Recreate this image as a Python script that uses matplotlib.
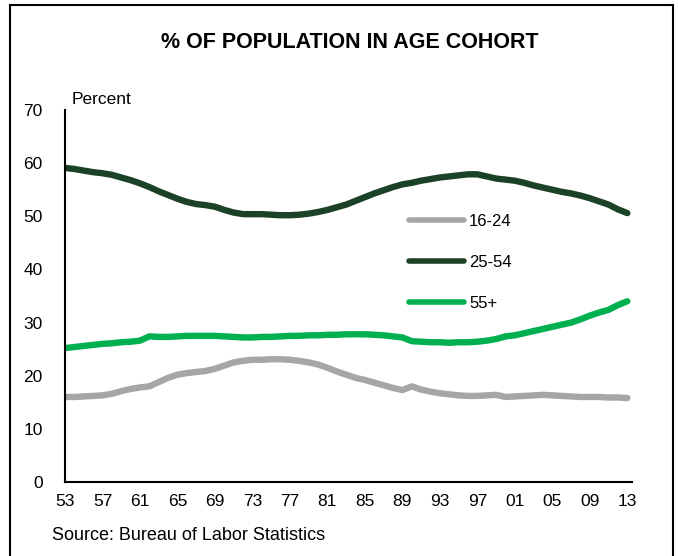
import matplotlib
matplotlib.use("Agg")
import matplotlib.pyplot as plt
from matplotlib.patches import Rectangle

plt.rcParams['font.family'] = ['Liberation Sans', 'DejaVu Sans']

years = list(range(1953, 2014))

age_16_24 = [16.0, 16.0, 16.1, 16.2, 16.3, 16.6, 17.1, 17.5, 17.8, 18.0,
             18.8, 19.6, 20.2, 20.5, 20.7, 20.9, 21.3, 21.9, 22.5, 22.8,
             23.0, 23.0, 23.1, 23.1, 23.0, 22.8, 22.5, 22.1, 21.5, 20.8,
             20.2, 19.6, 19.2, 18.7, 18.2, 17.7, 17.3, 18.0, 17.4, 17.0,
             16.7, 16.5, 16.3, 16.2, 16.2, 16.3, 16.4, 16.0, 16.1, 16.2,
             16.3, 16.4, 16.3, 16.2, 16.1, 16.0, 16.0, 16.0, 15.9, 15.9, 15.8]

age_25_54 = [59.1, 58.9, 58.6, 58.3, 58.1, 57.8, 57.3, 56.8, 56.2, 55.5,
             54.7, 54.0, 53.3, 52.7, 52.3, 52.1, 51.8, 51.2, 50.7, 50.4,
             50.4, 50.4, 50.3, 50.2, 50.2, 50.3, 50.5, 50.8, 51.2, 51.7,
             52.2, 52.9, 53.6, 54.3, 54.9, 55.5, 56.0, 56.3, 56.7, 57.0,
             57.3, 57.5, 57.7, 57.9, 57.9, 57.5, 57.1, 56.9, 56.7, 56.3,
             55.8, 55.4, 55.0, 54.6, 54.3, 53.9, 53.4, 52.8, 52.2, 51.3, 50.6]

age_55_plus = [25.2, 25.4, 25.6, 25.8, 26.0, 26.1, 26.3, 26.4, 26.6, 27.4,
               27.3, 27.3, 27.4, 27.5, 27.5, 27.5, 27.5, 27.4, 27.3, 27.2,
               27.2, 27.3, 27.3, 27.4, 27.5, 27.5, 27.6, 27.6, 27.7, 27.7,
               27.8, 27.8, 27.8, 27.7, 27.6, 27.4, 27.2, 26.5, 26.4, 26.3,
               26.3, 26.2, 26.3, 26.3, 26.4, 26.6, 26.9, 27.4, 27.6, 28.0,
               28.4, 28.8, 29.2, 29.6, 30.0, 30.6, 31.3, 31.9, 32.4, 33.3, 34.0]

tick_years = list(range(1953, 2014, 4))
tick_labels = [f"{y % 100:02d}" for y in tick_years]
series_names = ["16-24", "25-54", "55+"]
colors = ["#A6A6A6", "#1B4226", "#00B050"]

W, H = 679, 556
fig = plt.figure(figsize=(W / 100, H / 100), dpi=100)

# outer frame
fig.patches.append(Rectangle((10 / W, -0.05), (673 - 10) / W, 1.05 - 5 / H,
                             transform=fig.transFigure, fill=False,
                             edgecolor='black', linewidth=1.5))

ax = fig.add_axes([65 / W, 1 - 482 / H, (632 - 65) / W, (482 - 110) / H])

for vals, name, c in zip([age_16_24, age_25_54, age_55_plus], series_names, colors):
    ax.plot(years, vals, color=c, linewidth=4.6, label=name, solid_capstyle='round')

ax.set_xlim(1953, 2013.5)
ax.set_ylim(0, 70)
ax.set_yticks(range(0, 71, 10))
ax.set_xticks(tick_years)
ax.set_xticklabels(tick_labels)
ax.tick_params(axis='both', length=0, labelsize=12.5)
ax.tick_params(axis='x', pad=9)
ax.tick_params(axis='y', pad=16)
for s in ['top', 'right']:
    ax.spines[s].set_visible(False)
for s in ['left', 'bottom']:
    ax.spines[s].set_linewidth(1.5)
    ax.spines[s].set_color('black')

leg = ax.legend(loc='upper left', bbox_to_anchor=(394 / W, 1 - 199 / H),
                bbox_transform=fig.transFigure, frameon=False, fontsize=12,
                labelspacing=1.55, handlelength=3.3, handletextpad=0.3)
for line in leg.get_lines():
    line.set_linewidth(4)

fig.text(350 / W, 1 - 43 / H, "% OF POPULATION IN AGE COHORT", ha='center',
         va='center', fontsize=15.5, fontweight='bold')
fig.text(72 / W, 1 - 100 / H, "Percent", ha='left', va='center', fontsize=12.5)
fig.text(52 / W, 1 - 535 / H, "Source: Bureau of Labor Statistics", ha='left',
         va='center', fontsize=13)

fig.savefig("out.png", dpi=100)
